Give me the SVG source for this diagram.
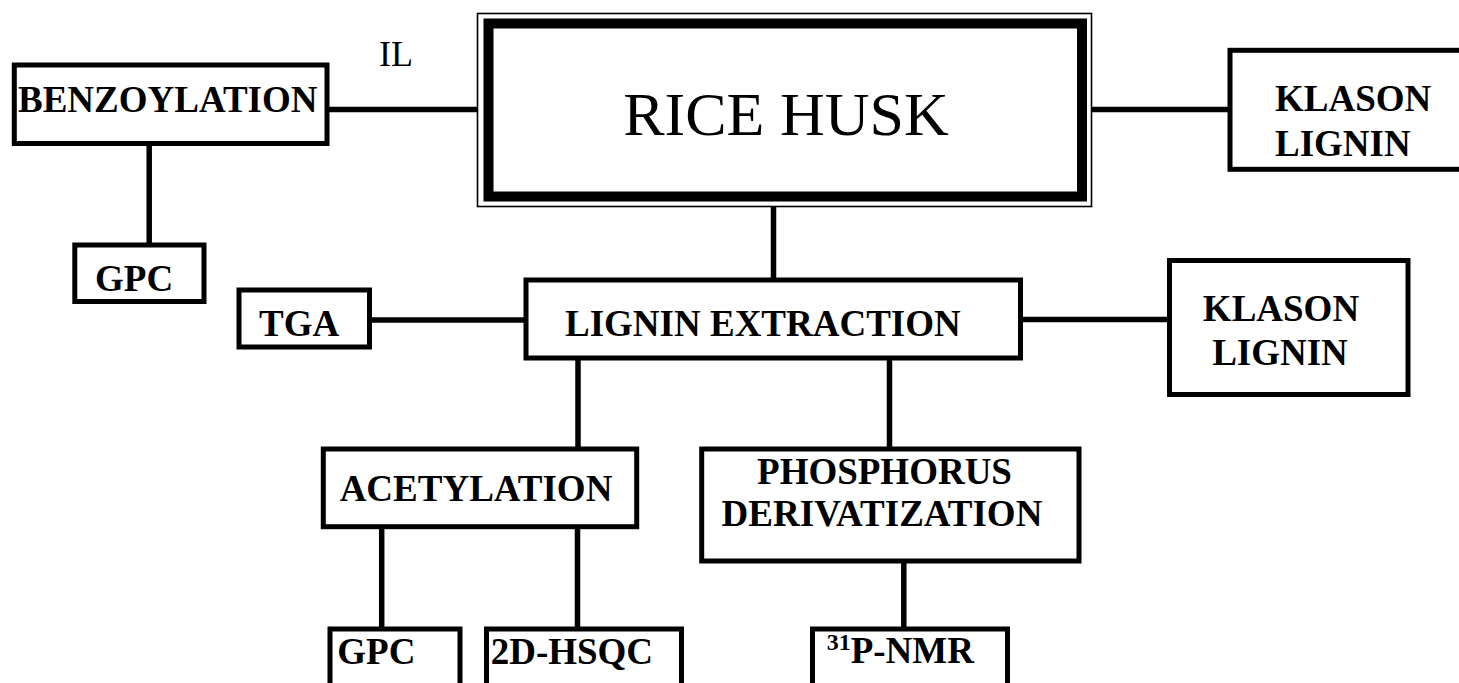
<svg xmlns="http://www.w3.org/2000/svg" width="1459" height="683" viewBox="0 0 1459 683">
<style>
.box{fill:#fff;stroke:#000;stroke-width:5}
.lbl{font-family:"Liberation Serif","Times New Roman",serif;font-weight:bold;font-size:37px;fill:#000}
.reg{font-family:"Liberation Serif","Times New Roman",serif;font-weight:normal;fill:#000}
.con line{stroke:#000;stroke-width:5.5}
</style>
<rect width="1459" height="683" fill="#fff"/>
<g id="connectors" class="con">
<line x1="329" y1="109.5" x2="484" y2="109.5"/>
<line x1="1092" y1="109.5" x2="1233" y2="109.5"/>
<line x1="149.2" y1="146" x2="149.2" y2="243"/>
<line x1="773.5" y1="207" x2="773.5" y2="278"/>
<line x1="372" y1="320" x2="528" y2="320"/>
<line x1="1023" y1="319.5" x2="1172" y2="319.5"/>
<line x1="578" y1="360" x2="578" y2="447"/>
<line x1="889.5" y1="360" x2="889.5" y2="447"/>
<line x1="381.7" y1="529" x2="381.7" y2="627"/>
<line x1="577.5" y1="529" x2="577.5" y2="627"/>
<line x1="903.8" y1="563" x2="903.8" y2="627"/>
</g>
<g id="il-label">
<text class="reg" x="379" y="66" font-size="36">IL</text>
</g>
<g id="rice-husk">
<rect x="477.5" y="13.5" width="614" height="193" fill="#fff" stroke="#000" stroke-width="1.6"/>
<rect x="488.5" y="23.5" width="593.5" height="173" fill="#fff" stroke="#000" stroke-width="10"/>
<text class="reg" x="786" y="135" font-size="62" text-anchor="middle">RICE HUSK</text>
</g>
<g id="benzoylation">
<rect class="box" x="14.3" y="65" width="312.7" height="78.5"/>
<text class="lbl" x="18" y="112">BENZOYLATION</text>
</g>
<g id="gpc-top">
<rect class="box" x="74.8" y="245" width="129.2" height="56.5"/>
<text class="lbl" x="95" y="291">GPC</text>
</g>
<g id="klason-top">
<rect class="box" x="1230" y="50.3" width="240" height="119"/>
<text class="lbl" x="1275" y="110.7">KLASON</text>
<text class="lbl" x="1275" y="155.7">LIGNIN</text>
</g>
<g id="tga">
<rect class="box" x="239" y="290" width="130.5" height="57"/>
<text class="lbl" x="259" y="336">TGA</text>
</g>
<g id="lignin-extraction">
<rect class="box" x="526" y="280" width="494.5" height="78"/>
<text class="lbl" x="565" y="336">LIGNIN EXTRACTION</text>
</g>
<g id="klason-2">
<rect class="box" x="1169.5" y="260.5" width="238.5" height="134"/>
<text class="lbl" x="1281" y="320.7" text-anchor="middle">KLASON</text>
<text class="lbl" x="1280" y="365" text-anchor="middle">LIGNIN</text>
</g>
<g id="acetylation">
<rect class="box" x="323.3" y="449" width="313.4" height="77.7"/>
<text class="lbl" x="476" y="501" text-anchor="middle">ACETYLATION</text>
</g>
<g id="phosphorus-derivatization">
<rect class="box" x="701.7" y="449" width="377.3" height="112"/>
<text class="lbl" x="884.5" y="484.3" text-anchor="middle">PHOSPHORUS</text>
<text class="lbl" x="882" y="526" text-anchor="middle">DERIVATIZATION</text>
</g>
<g id="gpc-bottom">
<rect class="box" x="330" y="629" width="130" height="70"/>
<text class="lbl" x="337.3" y="664.3">GPC</text>
</g>
<g id="hsqc">
<rect class="box" x="486.5" y="629" width="195" height="70"/>
<text class="lbl" x="490.7" y="664.3">2D-HSQC</text>
</g>
<g id="p-nmr">
<rect class="box" x="812.5" y="629" width="195" height="70"/>
<text class="lbl" x="826.7" y="663"><tspan font-size="24" dy="-13">31</tspan><tspan dy="13">P-NMR</tspan></text>
</g>
</svg>
